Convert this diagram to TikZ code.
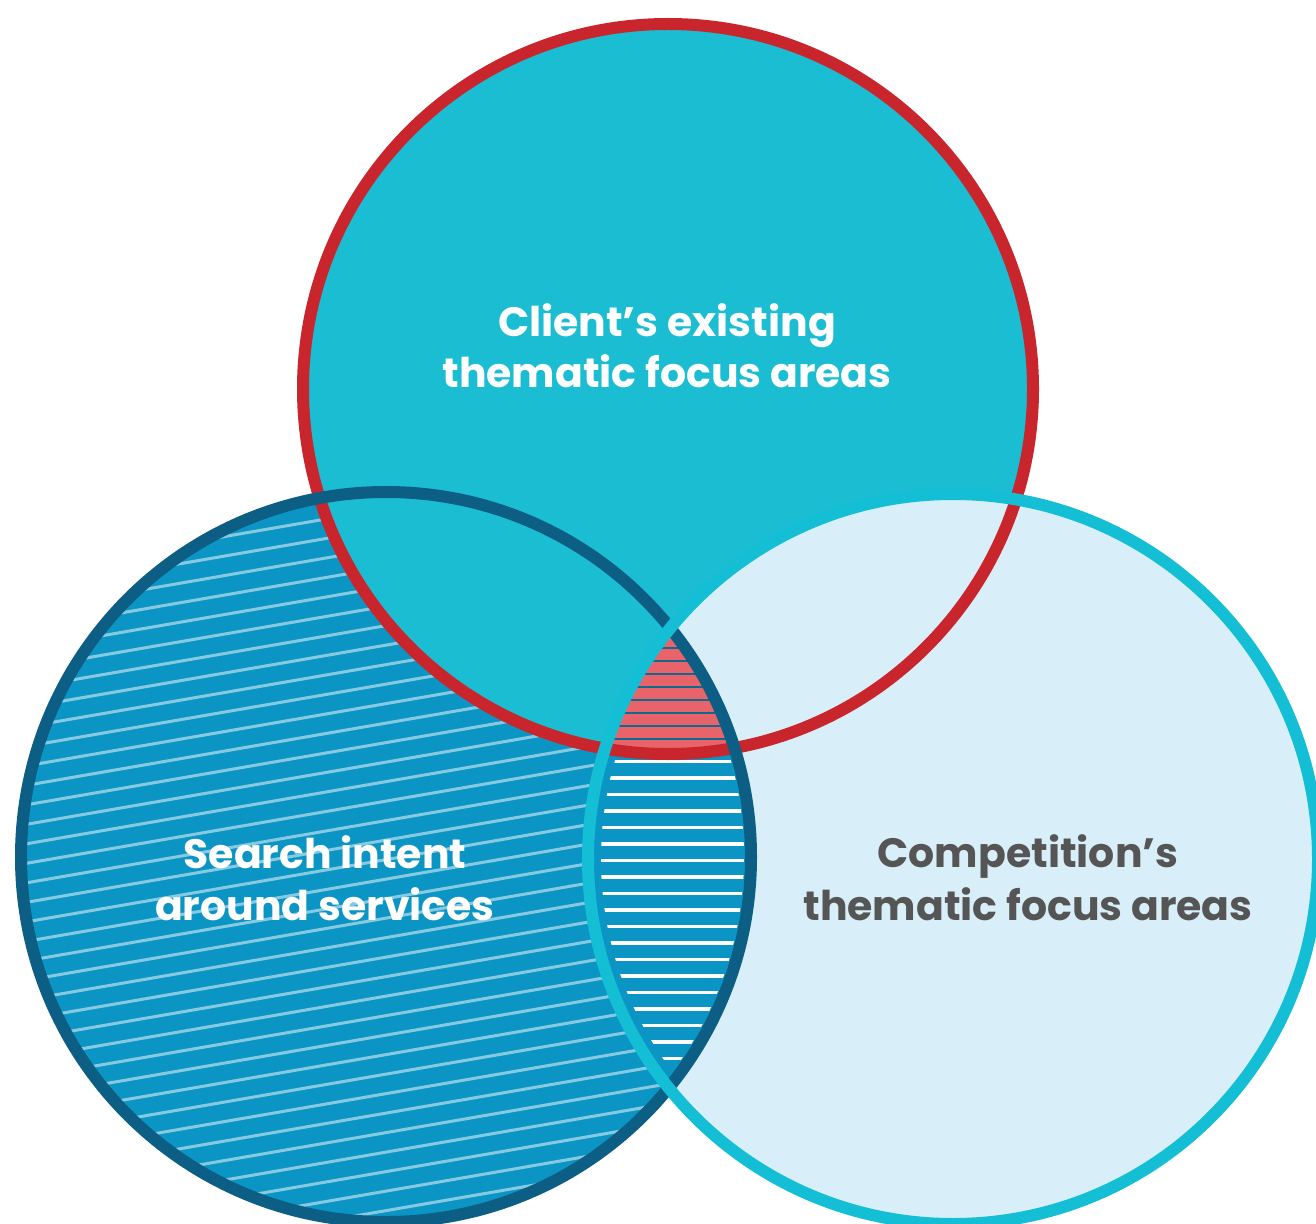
\documentclass[tikz,border=0pt]{standalone}
\usepackage{fontspec}
\setmainfont{Poppins}
\definecolor{topfill}{HTML}{1BBDD3}
\definecolor{topline}{HTML}{C9252D}
\definecolor{leftfill}{HTML}{0B95C4}
\definecolor{leftline}{HTML}{0C5E84}
\definecolor{rightfill}{HTML}{D8EFF9}
\definecolor{rightline}{HTML}{14BFD5}
\definecolor{corefill}{HTML}{E8646A}
\definecolor{coreline}{HTML}{0E6A8F}
\definecolor{labelgray}{HTML}{555555}
\begin{document}
\begin{tikzpicture}[x=0.5pt,y=-0.5pt,
  ring/.style={line width=6pt},
  slant/.style={white, opacity=0.5, line width=1.5pt},
  hstripe/.style={white, line width=1.6pt},
  corestripe/.style={coreline, line width=1.3pt},
  label/.style={font=\bfseries\fontsize{20.5}{26}\selectfont, anchor=base, inner sep=0pt}]
\useasboundingbox (0,0) rectangle (1316,1224);
\coordinate (cT) at (668,389);
\coordinate (cL) at (386,857);
\coordinate (cR) at (953,859);
\def\R{365}

% left set: base fill with slanted light stripes
\fill[leftfill] (cL) circle (\R);
\begin{scope}
  \clip (cL) circle (\R);
  \foreach \k in {-6,...,42}
    \draw[slant] (0,{575.4+19.5*\k}) -- (800,{437+19.5*\k});
\end{scope}

% top and right sets
\fill[topfill] (cT) circle (\R);
\fill[rightfill] (cR) circle (\R);

% left/right overlap with horizontal white stripes
\begin{scope}
  \clip (cL) circle (\R);
  \clip (cR) circle (\R);
  \fill[leftfill] (0,0) rectangle (1316,1224);
  \clip (cR) circle (352);
  \clip (cL) circle (358);
  \foreach \k in {0,...,32}
    \draw[hstripe] (540,{580+16.5*\k}) -- (800,{580+16.5*\k});
\end{scope}

% common core of all three sets
\begin{scope}
  \clip (cL) circle (\R);
  \clip (cR) circle (\R);
  \clip (cT) circle (\R);
  \fill[corefill] (0,0) rectangle (1316,1224);
  \foreach \k in {0,...,9}
    \draw[corestripe] (540,{648+13*\k}) -- (800,{648+13*\k});
\end{scope}

% outlines
\draw[ring, topline] (cT) circle (\R);
\draw[ring, leftline] (cL) circle (\R);
\draw[ring, rightline] (cR) circle (\R);

% labels
\node[label, white] (clientA) at (667,337) {Client’s existing};
\node[label, white] (clientB) at (667,388) {thematic focus areas};
\node[label, white] (searchA) at (325,868) {Search intent};
\node[label, white] (searchB) at (325,920) {around services};
\node[label, labelgray] (compA) at (1028,867) {Competition’s};
\node[label, labelgray] (compB) at (1028,920) {thematic focus areas};
\end{tikzpicture}
\end{document}
